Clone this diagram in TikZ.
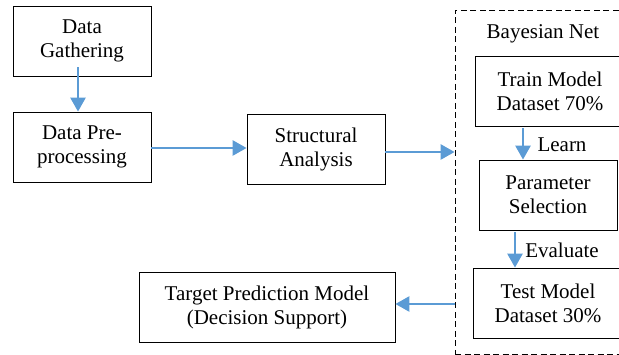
\documentclass[tikz,border=0pt]{standalone}
\usepackage{fontspec}
\setmainfont{Liberation Serif}
\usepackage{tikz}
\usepackage{xcolor}
\usetikzlibrary{arrows.meta,positioning,calc}
\definecolor{FlowBlue}{RGB}{91,155,213}

\begin{document}
\begin{tikzpicture}[x=1pt,y=-1pt,
    box/.style={draw, line width=0.8pt, minimum height=70pt, align=center, inner sep=2pt,
                font=\fontsize{21}{24}\selectfont},
    flow/.style={-{Triangle[length=14pt,width=15pt]}, line width=2.6pt, FlowBlue},
    lbl/.style={font=\fontsize{21}{24}\selectfont, inner sep=0pt}]
        \useasboundingbox (0,0) rectangle (619,355);
        % Bayesian net frame, runs off the right edge
        \node[draw, line width=0.8pt, dash pattern=on 6pt off 3.5pt, minimum width=190pt,
              minimum height=344pt, inner sep=0pt] (bayes) at (550,182) {};
        \node[lbl] (bntitle) at (543,34) {Bayesian Net};
        % main chain
        \node[box, minimum width=138pt] (gather) at (82,41) {Data\\Gathering};
        \node[box, minimum width=138pt] (prep) at (82,147) {Data Pre-\\processing};
        \node[box, minimum width=138pt] (struct) at (316,149) {Structural\\Analysis};
        \node[box, minimum width=256pt] (target) at (267,307) {Target Prediction Model\\(Decision Support)};
        % inside the frame
        \node[box, minimum width=150pt] (train) at (550,91) {Train Model\\Dataset 70\%};
        \node[box, minimum width=138pt] (param) at (548,195) {Parameter\\Selection};
        \node[box, minimum width=150pt] (test) at (548,303) {Test Model\\Dataset 30\%};
        \node[lbl] (learn) at (562,145) {Learn};
        \node[lbl] (evaluate) at (562,250) {Evaluate};
        % arrows
        \draw[flow] ([xshift=-4pt,yshift=9pt]gather.south) -- ([xshift=-4pt]prep.north);
        \draw[flow] ([yshift=-1pt]prep.east) -- ([yshift=-1pt]prep.east -| struct.west);
        \draw[flow] ([yshift=-3pt]struct.east) -- ([yshift=-3pt]struct.east -| bayes.west);
        \draw[flow] ([xshift=-27pt,yshift=-2pt]train.south) -- ([xshift=-27pt]train.south |- param.north);
        \draw[flow] ([xshift=-33pt,yshift=-2pt]param.south) -- ([xshift=-33pt]param.south |- test.north);
        \draw[flow] ([yshift=3pt]bayes.west |- target.east) -- ([yshift=3pt]target.east);
\end{tikzpicture}
\end{document}
